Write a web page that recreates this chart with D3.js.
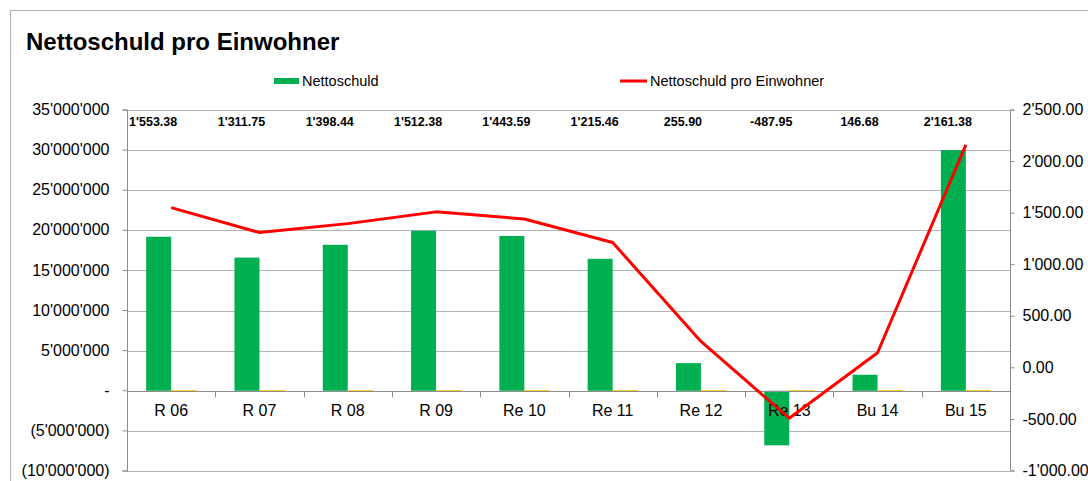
<!DOCTYPE html>
<html lang="de">
<head>
    <meta charset="UTF-8">
    <title>Nettoschuld pro Einwohner</title>
    <script src="https://d3js.org/d3.v7.min.js"></script>
    <style>
        body { margin: 0; background: #fff; font-family: Arial, "Liberation Sans", sans-serif; }
        .grid line { stroke: #b4b4b4; stroke-width: 1px; }
        .axis-label { font-size: 16px; fill: #000; }
        .value-label { font-size: 12.5px; font-weight: bold; fill: #000; }
        .legend-label { font-size: 14.5px; fill: #000; }
    </style>
</head>
<body>
    <svg id="chart" width="1088" height="481"></svg>

    <script>
        // Data
        const categories = ["R 06", "R 07", "R 08", "R 09", "Re 10", "Re 11", "Re 12", "Re 13", "Bu 14", "Bu 15"];
        const nettoschuld = [19200000, 16600000, 18200000, 19950000, 19300000, 16450000, 3450000, -6800000, 2000000, 30000000];
        const einwohner = [12380, 12640, 13010, 13190, 13370, 13530, 13480, 13940, 13640, 13880];
        const proEinwohner = [1553.38, 1311.75, 1398.44, 1512.38, 1443.59, 1215.46, 255.90, -487.95, 146.68, 2161.38];
        const leftTicks = [-10000000, -5000000, 0, 5000000, 10000000, 15000000, 20000000, 25000000, 30000000, 35000000];
        const rightTicks = [-1000, -500, 0, 500, 1000, 1500, 2000, 2500];

        const plot = { left: 127, right: 1010, top: 110, bottom: 471 };
        const green = "#00b050", yellow = "#ffc000", red = "#ff0000";

        const svg = d3.select("#chart");

        // Outer chart frame
        svg.append("rect")
            .attr("x", 10.5).attr("y", 10.5)
            .attr("width", 1200).attr("height", 600)
            .attr("fill", "none").attr("stroke", "#b0b0b0");

        // Title
        svg.append("text")
            .attr("x", 26).attr("y", 50)
            .style("font-size", "24px").style("font-weight", "bold")
            .text("Nettoschuld pro Einwohner");

        // Scales
        const x = d3.scaleBand()
            .domain(categories)
            .range([plot.left, plot.right])
            .paddingInner(0.434)
            .paddingOuter(0.217);
        const step = x.step();
        const sub = d3.scaleBand().domain(["n", "e"]).range([0, x.bandwidth()]);

        const yL = d3.scaleLinear().domain([-10000000, 35000000]).range([plot.bottom, plot.top]);
        const yR = d3.scaleLinear().domain([-1000, 2500]).range([plot.bottom, plot.top]);

        const apo = d3.formatLocale({ decimal: ".", thousands: "'", grouping: [3], currency: ["", ""], minus: "-" });
        const fmtInt = apo.format(",.0f");
        const fmtDec = apo.format(",.2f");
        const fmtLeft = v => v === 0 ? "-" : (v < 0 ? "(" + fmtInt(-v) + ")" : fmtInt(v));

        // Gridlines
        svg.append("g").attr("class", "grid")
            .selectAll("line").data(leftTicks.filter(v => v !== 0)).join("line")
            .attr("x1", plot.left).attr("x2", plot.right)
            .attr("y1", d => Math.round(yL(d)) + 0.5).attr("y2", d => Math.round(yL(d)) + 0.5);

        // Left axis
        const leftAxis = svg.append("g")
            .attr("transform", `translate(${plot.left + 0.5},0)`)
            .call(d3.axisLeft(yL).tickValues(leftTicks).tickFormat(fmtLeft).tickSize(5).tickPadding(13).offset(0));
        leftAxis.select(".domain").attr("stroke", "#8c8c8c");
        leftAxis.selectAll(".tick line").attr("stroke", "#8c8c8c");
        leftAxis.selectAll("text").attr("class", "axis-label").style("font-family", "Arial, 'Liberation Sans', sans-serif");

        // Right axis
        const rightAxis = svg.append("g")
            .attr("transform", `translate(${plot.right + 0.5},0)`)
            .call(d3.axisRight(yR).tickValues(rightTicks).tickFormat(fmtDec).tickSize(4).tickPadding(8).offset(0));
        rightAxis.select(".domain").attr("stroke", "#8c8c8c");
        rightAxis.selectAll(".tick line").attr("stroke", "#8c8c8c");
        rightAxis.selectAll("text").attr("class", "axis-label").style("font-family", "Arial, 'Liberation Sans', sans-serif");

        // Bars: Nettoschuld
        svg.append("g").selectAll("rect").data(nettoschuld).join("rect")
            .attr("x", (d, i) => x(categories[i]) + sub("n"))
            .attr("width", sub.bandwidth())
            .attr("y", d => yL(Math.max(0, d)))
            .attr("height", d => Math.abs(yL(d) - yL(0)))
            .attr("fill", green);

        // Bars: Einwohner (tiny on this scale)
        svg.append("g").selectAll("rect").data(einwohner).join("rect")
            .attr("x", (d, i) => x(categories[i]) + sub("e"))
            .attr("width", sub.bandwidth())
            .attr("y", d => yL(d))
            .attr("height", d => yL(0) - yL(d))
            .attr("fill", yellow)
            .attr("stroke", yellow).attr("stroke-width", 1);

        // Category axis at zero
        const zeroY = Math.round(yL(0)) + 0.5;
        const catAxis = svg.append("g");
        catAxis.append("line")
            .attr("x1", plot.left).attr("x2", plot.right)
            .attr("y1", zeroY).attr("y2", zeroY)
            .attr("stroke", "#8c8c8c");
        catAxis.selectAll("line.tk").data(d3.range(categories.length + 1)).join("line")
            .attr("class", "tk")
            .attr("x1", i => Math.round(plot.left + i * step) + 0.5)
            .attr("x2", i => Math.round(plot.left + i * step) + 0.5)
            .attr("y1", zeroY).attr("y2", zeroY + 6)
            .attr("stroke", "#8c8c8c");
        catAxis.selectAll("text").data(categories).join("text")
            .attr("class", "axis-label")
            .attr("x", d => x(d) + x.bandwidth() / 2)
            .attr("y", zeroY + 24)
            .attr("text-anchor", "middle")
            .text(d => d);

        // Line: Nettoschuld pro Einwohner
        const cx = (d, i) => x(categories[i]) + x.bandwidth() / 2;
        svg.append("path")
            .datum(proEinwohner)
            .attr("fill", "none")
            .attr("stroke", red)
            .attr("stroke-width", 3)
            .attr("stroke-linejoin", "round")
            .attr("d", d3.line().x(cx).y(d => yR(d)));

        // Value labels along the top
        svg.append("g").selectAll("text").data(proEinwohner).join("text")
            .attr("class", "value-label")
            .attr("x", (d, i) => cx(d, i) - 18)
            .attr("y", 126)
            .attr("text-anchor", "middle")
            .text(d => fmtDec(d));

        // Legend
        svg.append("rect")
            .attr("x", 274).attr("y", 78).attr("width", 25).attr("height", 6)
            .attr("fill", green);
        svg.append("text").attr("class", "legend-label")
            .attr("x", 302).attr("y", 86).text("Nettoschuld");
        svg.append("line")
            .attr("x1", 620).attr("x2", 647).attr("y1", 81).attr("y2", 81)
            .attr("stroke", red).attr("stroke-width", 3);
        svg.append("text").attr("class", "legend-label")
            .attr("x", 650).attr("y", 86).text("Nettoschuld pro Einwohner");
    </script>
</body>
</html>
